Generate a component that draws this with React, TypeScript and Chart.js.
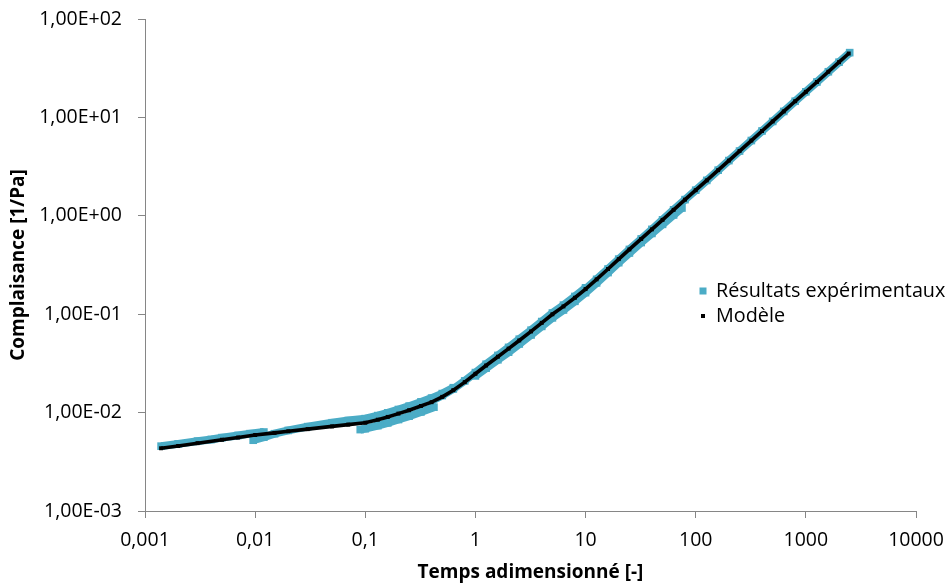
import React, { useEffect, useRef } from 'react';
import { Chart, registerables } from 'chart.js';

Chart.register(...registerables);

// Axis ticks
const xTickValues = [0.001, 0.01, 0.1, 1, 10, 100, 1000, 10000];
const xTickLabels = ['0,001', '0,01', '0,1', '1', '10', '100', '1000', '10000'];
const yTickValues = [0.001, 0.01, 0.1, 1, 10, 100];
const yTickLabels = ['1,00E-03', '1,00E-02', '1,00E-01', '1,00E+00', '1,00E+01', '1,00E+02'];

// Model (Modèle)
const modelTime = [0.0014, 0.002, 0.003, 0.005, 0.007, 0.01, 0.015, 0.02, 0.03, 0.05, 0.07, 0.1, 0.13, 0.16, 0.2, 0.25, 0.32, 0.4, 0.5, 0.63, 0.8, 1, 1.25, 1.6, 2, 2.5, 3.2, 4, 5, 6.3, 8, 10, 12.6, 16, 20, 25, 32, 40, 50, 63, 80, 100, 126, 160, 200, 250, 320, 400, 500, 630, 800, 1000, 1260, 1600, 2000, 2450];
const modelCompliance = [0.00434, 0.00458, 0.00489, 0.0053, 0.00558, 0.00592, 0.00622, 0.00646, 0.00679, 0.00724, 0.00755, 0.00789, 0.00847, 0.00904, 0.00977, 0.01057, 0.01167, 0.01276, 0.01445, 0.0169, 0.0204, 0.0248, 0.0301, 0.037, 0.0447, 0.0541, 0.0668, 0.0817, 0.0998, 0.12, 0.147, 0.18, 0.226, 0.288, 0.363, 0.455, 0.582, 0.728, 0.91, 1.15, 1.46, 1.82, 2.29, 2.91, 3.64, 4.55, 5.82, 7.28, 9.1, 11.5, 14.6, 18.2, 22.9, 29.1, 36.4, 44.6];

// Experimental results (Résultats expérimentaux), one sweep per segment
const expTimeA = [0.0014, 0.002, 0.003, 0.004, 0.005, 0.007, 0.009, 0.012];
const expComplianceA = [0.00456, 0.00481, 0.00513, 0.00533, 0.00557, 0.00586, 0.00611, 0.00635];
const expTimeB = [0.0096, 0.012, 0.015, 0.02, 0.03, 0.05, 0.07, 0.1, 0.13, 0.16, 0.2, 0.25, 0.32, 0.4, 0.5, 0.63];
const expComplianceB = [0.00524, 0.00563, 0.0061, 0.00659, 0.0072, 0.00789, 0.0083, 0.00868, 0.00932, 0.00994, 0.01075, 0.01163, 0.01284, 0.01404, 0.0156, 0.0179];
const expTimeC = [0.09, 0.1, 0.13, 0.16, 0.2, 0.25, 0.32, 0.42];
const expComplianceC = [0.00672, 0.00686, 0.00737, 0.00786, 0.0085, 0.0092, 0.01015, 0.01136];
const expTimeD = [0.4, 0.5, 0.63, 0.8, 1, 1.25, 1.6, 2, 2.5, 3.2, 4, 5, 6.3, 8, 10];
const expComplianceD = [0.01314, 0.0149, 0.0174, 0.021, 0.0255, 0.031, 0.0381, 0.046, 0.0557, 0.0688, 0.0842, 0.1028, 0.1236, 0.1514, 0.1854];
const expTimeE = [1, 1.25, 1.6, 2, 2.5, 3.2, 4, 5, 6.3, 8, 10, 12.6, 16, 20, 25, 32, 40, 50, 63, 75];
const expComplianceE = [0.0236, 0.0283, 0.0344, 0.0411, 0.0498, 0.0615, 0.0752, 0.0918, 0.1104, 0.1352, 0.1656, 0.208, 0.265, 0.334, 0.419, 0.535, 0.662, 0.819, 1.02, 1.2];
const expTimeF = [8, 10, 12.6, 16, 20, 25, 32, 40, 50, 63, 80, 100, 126, 160, 200, 250, 320, 400, 500, 630, 800, 1000, 1260, 1600, 2000, 2500];
const expComplianceF = [0.147, 0.18, 0.226, 0.288, 0.363, 0.455, 0.582, 0.728, 0.91, 1.15, 1.46, 1.82, 2.29, 2.91, 3.64, 4.55, 5.82, 7.28, 9.1, 11.5, 14.6, 18.2, 22.9, 29.1, 36.4, 45.5];

const EXP_COLOR = '#4BACC6';
const MODEL_COLOR = '#000000';
const FONT = "'Open Sans', sans-serif";

type Pt = { x: number; y: number | null };

function zip(ts: number[], js: number[]): Pt[] {
  return ts.map((t, i) => ({ x: t, y: js[i] }));
}

function joinSegments(segs: Pt[][]): Pt[] {
  const out: Pt[] = [];
  segs.forEach((s, i) => {
    if (i > 0) out.push({ x: s[0].x, y: null });
    out.push(...s);
  });
  return out;
}

const legendPlugin = {
  id: 'sideLegend',
  afterDraw(chart: any) {
    const { ctx, chartArea } = chart;
    const x0 = chartArea.right - 213;
    const rows = [
      { ds: chart.data.datasets[0], y: chartArea.top + 272, size: 7 },
      { ds: chart.data.datasets[1], y: chartArea.top + 297, size: 4 },
    ];
    ctx.save();
    ctx.font = `19.8px ${FONT}`;
    ctx.textBaseline = 'middle';
    ctx.textAlign = 'left';
    rows.forEach((r) => {
      ctx.fillStyle = r.ds.pointBackgroundColor;
      ctx.fillRect(x0 - r.size / 2, r.y - r.size / 2, r.size, r.size);
      ctx.fillStyle = '#000';
      ctx.fillText(r.ds.label, x0 + 13, r.y);
    });
    ctx.restore();
  },
};

function zeroPadding(s: any) {
  s.paddingTop = 0;
  s.paddingBottom = 0;
  s.paddingLeft = 0;
  s.paddingRight = 0;
}

export default function App() {
  const canvasRef = useRef<HTMLCanvasElement | null>(null);

  useEffect(() => {
    document.body.style.margin = '0';
    const canvas = canvasRef.current;
    if (!canvas) return;

    const expData = joinSegments([
      zip(expTimeA, expComplianceA),
      zip(expTimeB, expComplianceB),
      zip(expTimeC, expComplianceC),
      zip(expTimeD, expComplianceD),
      zip(expTimeE, expComplianceE),
      zip(expTimeF, expComplianceF),
    ]);
    const modelData = zip(modelTime, modelCompliance);

    const tickFont = { family: FONT, size: 19.5 };
    const titleFont = { family: FONT, size: 19, weight: 'bold' as const };

    const chart = new Chart(canvas, {
      type: 'scatter',
      data: {
        datasets: [
          {
            label: 'Résultats expérimentaux',
            data: expData,
            showLine: true,
            spanGaps: false,
            borderColor: EXP_COLOR,
            borderWidth: 8,
            pointStyle: 'rect',
            pointRadius: 5.4,
            pointBackgroundColor: EXP_COLOR,
            pointBorderWidth: 0,
            order: 2,
          },
          {
            label: 'Modèle',
            data: modelData,
            showLine: true,
            borderColor: MODEL_COLOR,
            borderWidth: 3.6,
            pointStyle: 'rect',
            pointRadius: 2.8,
            pointBackgroundColor: MODEL_COLOR,
            pointBorderWidth: 0,
            order: 1,
          },
        ],
      },
      options: {
        responsive: false,
        animation: false,
        events: [],
        layout: { padding: { top: 19, right: 35, left: 0, bottom: 0 } },
        plugins: {
          legend: { display: false },
          tooltip: { enabled: false },
        },
        scales: {
          x: {
            type: 'logarithmic',
            position: 'bottom',
            min: 0.001,
            max: 10000,
            afterBuildTicks: (s: any) => {
              s.ticks = xTickValues.map((v) => ({ value: v }));
            },
            afterFit: (s: any) => {
              s.height = 77;
              zeroPadding(s);
            },
            ticks: {
              autoSkip: false,
              maxRotation: 0,
              color: '#000',
              font: tickFont,
              padding: 11,
              callback: (v: any) => xTickLabels[xTickValues.indexOf(Number(v))] ?? null,
            },
            grid: { drawOnChartArea: false, tickLength: 7, color: '#868686' },
            border: { color: '#868686' },
            title: {
              display: true,
              text: 'Temps adimensionné [-]',
              color: '#000',
              font: titleFont,
              padding: { top: 0, bottom: 4 },
            },
          },
          y: {
            type: 'logarithmic',
            position: 'left',
            min: 0.001,
            max: 100,
            afterBuildTicks: (s: any) => {
              s.ticks = yTickValues.map((v) => ({ value: v }));
            },
            afterFit: (s: any) => {
              s.width = 145;
              zeroPadding(s);
            },
            ticks: {
              autoSkip: false,
              color: '#000',
              font: tickFont,
              padding: 16,
              callback: (v: any) => yTickLabels[yTickValues.indexOf(Number(v))] ?? null,
            },
            grid: { drawOnChartArea: false, tickLength: 7, color: '#868686' },
            border: { color: '#868686' },
            title: {
              display: true,
              text: 'Complaisance [1/Pa]',
              color: '#000',
              font: titleFont,
              padding: { top: 7, bottom: 0 },
            },
          },
        },
      },
      plugins: [legendPlugin],
    });

    return () => chart.destroy();
  }, []);

  return (
    <div style={{ width: 951, height: 588 }}>
      <canvas ref={canvasRef} width={951} height={588} style={{ display: 'block' }} />
    </div>
  );
}
